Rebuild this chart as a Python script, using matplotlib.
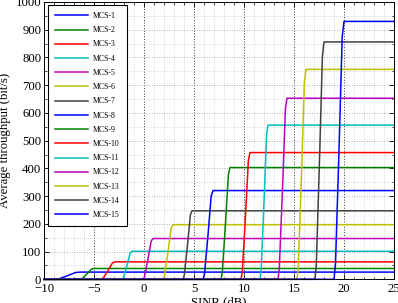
import matplotlib
matplotlib.use("Agg")
import matplotlib.pyplot as plt
from matplotlib.ticker import MultipleLocator

# ---- data ----
labels = [f"MCS-{i}" for i in range(1, 16)]
levels = [26, 39, 63, 101, 147, 197, 247, 320, 403, 457, 556, 653, 757, 856, 930]
# SINR positions (dB) along each rising edge, matched with the fractions of the plateau below
rise_fraction = [0.0, 0.06, 0.5, 0.94, 1.0]
rise_sinr = [
    [-8.9, -8.52, -7.65, -6.85, -6.4],
    [-6.4, -6.19, -5.7, -5.25, -5.0],
    [-4.3, -4.09, -3.6, -3.15, -2.9],
    [-2.2, -2.05, -1.7, -1.38, -1.2],
    [-0.1, 0.05, 0.4, 0.72, 0.9],
    [1.9, 2.05, 2.4, 2.72, 2.9],
    [3.9, 4.03, 4.35, 4.64, 4.8],
    [5.9, 6.05, 6.4, 6.72, 6.9],
    [7.7, 7.83, 8.15, 8.44, 8.6],
    [9.7, 9.83, 10.15, 10.44, 10.6],
    [11.6, 11.72, 12.0, 12.26, 12.4],
    [13.4, 13.53, 13.85, 14.14, 14.3],
    [15.3, 15.43, 15.75, 16.04, 16.2],
    [17.1, 17.23, 17.55, 17.84, 18.0],
    [19.0, 19.15, 19.5, 19.82, 20.0],
]
sinr_min, sinr_max = -10, 25
xticks = [-10, -5, 0, 5, 10, 15, 20, 25]
yticks = list(range(0, 1001, 100))

colors = [(0, 0, 1), (0, 0.5, 0), (1, 0, 0), (0, 0.75, 0.75), (0.75, 0, 0.75),
          (0.75, 0.75, 0), (0.25, 0.25, 0.25)]

plt.rcParams['font.family'] = ['Liberation Serif', 'DejaVu Serif']

fig = plt.figure(figsize=(3.98, 3.03), dpi=100)
ax = fig.add_axes([44 / 398, 1 - 279.3 / 303, 350 / 398, 277.3 / 303])

for i, (lab, lev, xs) in enumerate(zip(labels, levels, rise_sinr)):
    x = [sinr_min] + xs + [sinr_max]
    y = [0] + [lev * f for f in rise_fraction] + [lev]
    ax.plot(x, y, color=colors[i % 7], lw=1.1, label=lab, clip_on=False,
            solid_joinstyle='round')

ax.set_xlim(sinr_min, sinr_max)
ax.set_ylim(0, 1000)
ax.set_xticks(xticks)
ax.set_yticks(yticks)
ax.xaxis.set_minor_locator(MultipleLocator(1))
ax.yaxis.set_minor_locator(MultipleLocator(50))

ax.tick_params(which='both', direction='in', top=True, right=True, labelsize=9.2)
ax.tick_params(which='major', length=3.5, width=0.6)
ax.tick_params(which='minor', length=1.8, width=0.5)
ax.tick_params(axis='x', pad=2.5)
ax.tick_params(axis='y', pad=2)
for sp in ax.spines.values():
    sp.set_linewidth(0.7)

ax.grid(which='minor', color='0.72', linestyle=(0, (1, 2)), linewidth=0.5)
ax.grid(which='major', axis='y', color='0.6', linestyle=(0, (1, 2)), linewidth=0.6)
ax.grid(which='major', axis='x', color='0.2', linestyle=(0, (1, 1.8)), linewidth=0.7)
ax.set_axisbelow(True)

ax.set_xlabel('SINR (dB)', fontsize=9.2, labelpad=1)
ax.set_ylabel('Average throughput (bit/s)', fontsize=9.2, labelpad=3)

leg = ax.legend(loc='upper left', bbox_to_anchor=(4 / 350, 1 - 3 / 277.3),
                fontsize=5.6, frameon=True, fancybox=False, borderaxespad=0,
                handlelength=4.2, handletextpad=0.7, labelspacing=0.8,
                borderpad=0.9)
leg.get_frame().set_edgecolor('black')
leg.get_frame().set_linewidth(0.8)
leg.get_frame().set_alpha(1)
for h in leg.get_lines():
    h.set_linewidth(1.1)

fig.savefig('out.png', dpi=100)
